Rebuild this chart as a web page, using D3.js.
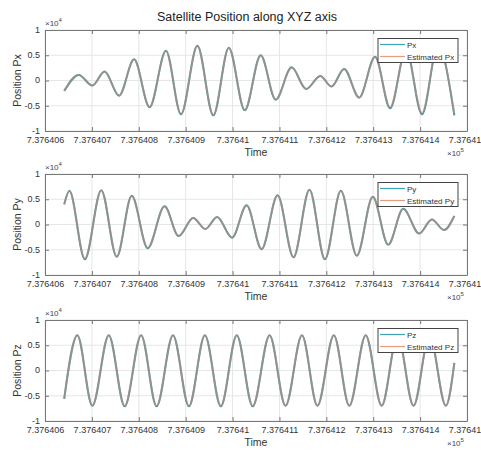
<!DOCTYPE html>
<html><head><meta charset="utf-8">
<script src="https://cdn.jsdelivr.net/npm/d3@7"></script>
<style>body{margin:0;background:#fff} text{font-family:"Liberation Sans",Arial,sans-serif;fill:#333}</style>
</head><body><svg id="c" width="481" height="453"></svg>
<script>
const titleText = "Satellite Position along XYZ axis";
const timeTicks = [737640.6, 737640.7, 737640.8, 737640.9, 737641.0, 737641.1, 737641.2, 737641.3, 737641.4, 737641.5];
const timeTickLabels = ["7.376406", "7.376407", "7.376408", "7.376409", "7.37641", "7.376411", "7.376412", "7.376413", "7.376414", "7.376415"];
const valueTicks = [-10000, -5000, 0, 5000, 10000];
const valueTickLabels = ["-1", "-0.5", "0", "0.5", "1"];

const pxTime = [737640.641, 737640.672, 737640.701, 737640.727, 737640.758, 737640.790, 737640.823, 737640.858, 737640.890, 737640.925, 737640.959, 737640.992, 737641.026, 737641.060, 737641.092, 737641.126, 737641.157, 737641.187, 737641.211, 737641.238, 737641.270, 737641.304, 737641.336, 737641.370, 737641.404, 737641.438, 737641.473];
const pxValues = [-2100, 1100, -1000, 1800, -3000, 4200, -5300, 5900, -6700, 6900, -6900, 6500, -5900, 5000, -3800, 2600, -1700, 900, -1200, 2300, -3400, 4700, -5500, 6200, -6700, 7000, -6900];
const pxEstValues = [-2000, 1100, -1000, 1750, -2950, 4100, -5200, 5800, -6600, 6750, -6800, 6400, -5800, 4900, -3750, 2550, -1700, 900, -1150, 2250, -3300, 4600, -5300, 6000, -6400, 6800, -6500];

const pyTime = [737640.641, 737640.652, 737640.685, 737640.720, 737640.753, 737640.785, 737640.819, 737640.855, 737640.885, 737640.916, 737640.942, 737640.967, 737640.999, 737641.030, 737641.062, 737641.096, 737641.130, 737641.164, 737641.197, 737641.231, 737641.265, 737641.299, 737641.332, 737641.364, 737641.398, 737641.425, 737641.451, 737641.473];
const pyValues = [4000, 6700, -6900, 6800, -6400, 5700, -4700, 3600, -2300, 1300, -900, 1500, -2600, 3800, -4900, 5800, -6500, 6900, -6900, 6700, -6200, 5500, -4000, 3100, -1800, 1000, -1100, 1700];
const pyEstValues = [3900, 6600, -6700, 6700, -6300, 5600, -4600, 3550, -2250, 1300, -900, 1450, -2550, 3700, -4800, 5700, -6400, 6800, -6800, 6600, -6100, 5400, -3950, 3050, -1800, 1000, -1100, 1650];

const pzTime = [737640.641, 737640.669, 737640.701, 737640.736, 737640.770, 737640.805, 737640.838, 737640.873, 737640.907, 737640.941, 737640.975, 737641.009, 737641.043, 737641.079, 737641.113, 737641.148, 737641.181, 737641.216, 737641.249, 737641.284, 737641.318, 737641.352, 737641.386, 737641.420, 737641.455, 737641.473];
const pzValues = [-5600, 7000, -7000, 7000, -7100, 7000, -7100, 7000, -7100, 7000, -7100, 7000, -7100, 7000, -7000, 7000, -7000, 7000, -7000, 7000, -7000, 7000, -7000, 7000, -7000, 1500];
const pzEstValues = [-5500, 6900, -6900, 6900, -7000, 6900, -7000, 6900, -7000, 6900, -7000, 6900, -7000, 6900, -6900, 6900, -6900, 6900, -6900, 6900, -6900, 6900, -6900, 6900, -6900, 1400];

const panels = [
  {name: "Px", est: "Estimated Px", yLabel: "Position Px", t: pxTime, v: pxValues, e: pxEstValues},
  {name: "Py", est: "Estimated Py", yLabel: "Position Py", t: pyTime, v: pyValues, e: pyEstValues},
  {name: "Pz", est: "Estimated Pz", yLabel: "Position Pz", t: pzTime, v: pzValues, e: pzEstValues}
];

const trueColor = "#4b93a1";
const estColor = "#d08f76";
const legendTrue = "#3fa3b5";
const legendEst = "#e59b7c";
const left = 45, right = 467, height = 101;
const tops = [30, 174, 320];

const svg = d3.select("#c");
svg.append("text").attr("x", 247).attr("y", 21).attr("text-anchor", "middle")
  .style("font-size", "12.5px").style("fill", "#222").text(titleText);

const x = d3.scaleLinear().domain([timeTicks[0], timeTicks[timeTicks.length - 1]]).range([left, right]);

panels.forEach((p, i) => {
  const top = tops[i], bottom = top + height;
  const y = d3.scaleLinear().domain([valueTicks[0], valueTicks[valueTicks.length - 1]]).range([bottom, top]);
  const g = svg.append("g");
  g.append("rect").attr("x", left).attr("y", top).attr("width", right - left).attr("height", height).attr("fill", "#fff");
  // grid
  g.selectAll(".gx").data(timeTicks).enter().append("line")
    .attr("x1", d => x(d)).attr("x2", d => x(d)).attr("y1", top).attr("y2", bottom)
    .attr("stroke", "#e6e6e6").attr("stroke-width", 1);
  g.selectAll(".gy").data(valueTicks).enter().append("line")
    .attr("y1", d => y(d)).attr("y2", d => y(d)).attr("x1", left).attr("x2", right)
    .attr("stroke", "#e6e6e6").attr("stroke-width", 1);
  // lines
  const pts = p.t.map((t, k) => ({t, v: p.v[k], e: p.e[k]}));
  const lineV = d3.line().x(d => x(d.t)).y(d => y(d.v)).curve(d3.curveMonotoneX);
  const lineE = d3.line().x(d => x(d.t)).y(d => y(d.e)).curve(d3.curveMonotoneX);
  g.append("path").attr("d", lineV(pts)).attr("fill", "none").attr("stroke", trueColor).attr("stroke-width", 2);
  g.append("path").attr("d", lineE(pts)).attr("fill", "none").attr("stroke", estColor).attr("stroke-width", 1.8).attr("stroke-opacity", 0.55);
  // axes
  const fx = (d) => timeTickLabels[timeTicks.indexOf(d)];
  const fy = (d) => valueTickLabels[valueTicks.indexOf(d)];
  const ax = g.append("g").attr("transform", `translate(0,${bottom})`)
    .call(d3.axisBottom(x).tickValues(timeTicks).tickFormat(fx).tickSizeInner(-4).tickSizeOuter(0).tickPadding(5.5));
  const ay = g.append("g").attr("transform", `translate(${left},0)`)
    .call(d3.axisLeft(y).tickValues(valueTicks).tickFormat(fy).tickSizeInner(-4).tickSizeOuter(0).tickPadding(5));
  const at = g.append("g").attr("transform", `translate(0,${top})`)
    .call(d3.axisTop(x).tickValues(timeTicks).tickFormat("").tickSizeInner(-4).tickSizeOuter(0));
  const ar = g.append("g").attr("transform", `translate(${right},0)`)
    .call(d3.axisRight(y).tickValues(valueTicks).tickFormat("").tickSizeInner(-4).tickSizeOuter(0));
  [ax, ay, at, ar].forEach(a => {
    a.select(".domain").attr("stroke", "#777");
    a.selectAll(".tick line").attr("stroke", "#777");
    a.selectAll(".tick text").style("font-size", "9px").style("fill", "#333").style("font-family", '"Liberation Sans",Arial,sans-serif');
  });
  ay.selectAll(".tick text").attr("dy", "0.25em");
  // exponent labels
  const e4 = g.append("text").attr("x", left).attr("y", top - 4).style("font-size", "8px").style("fill", "#444");
  e4.append("tspan").text("\u00d710");
  e4.append("tspan").attr("dy", -4).style("font-size", "6px").text("4");
  const e5 = g.append("text").attr("x", 447).attr("y", bottom + 25).style("font-size", "8px").style("fill", "#444");
  e5.append("tspan").text("\u00d710");
  e5.append("tspan").attr("dy", -4).style("font-size", "6px").text("5");
  // axis labels
  g.append("text").attr("x", (left + right) / 2).attr("y", bottom + 25).attr("text-anchor", "middle")
    .style("font-size", "10.5px").style("fill", "#333").text("Time");
  g.append("text").attr("transform", `translate(21,${(top + bottom) / 2}) rotate(-90)`).attr("text-anchor", "middle")
    .style("font-size", "10.5px").style("fill", "#333").text(p.yLabel);
  // legend
  const lx = 378, ly = top + 8.5, lw = 80, lh = 24;
  const lg = g.append("g");
  lg.append("rect").attr("x", lx).attr("y", ly).attr("width", lw).attr("height", lh)
    .attr("fill", "#fff").attr("stroke", "#444").attr("stroke-width", 1);
  [[p.name, legendTrue], [p.est, legendEst]].forEach((it, k) => {
    const cy = ly + 6 + k * 12;
    lg.append("line").attr("x1", lx + 2).attr("x2", lx + 27).attr("y1", cy).attr("y2", cy)
      .attr("stroke", it[1]).attr("stroke-width", 1.2);
    lg.append("text").attr("x", lx + 29).attr("y", cy + 3).style("font-size", "8px").style("fill", "#333").text(it[0]);
  });
});
</script></body></html>
